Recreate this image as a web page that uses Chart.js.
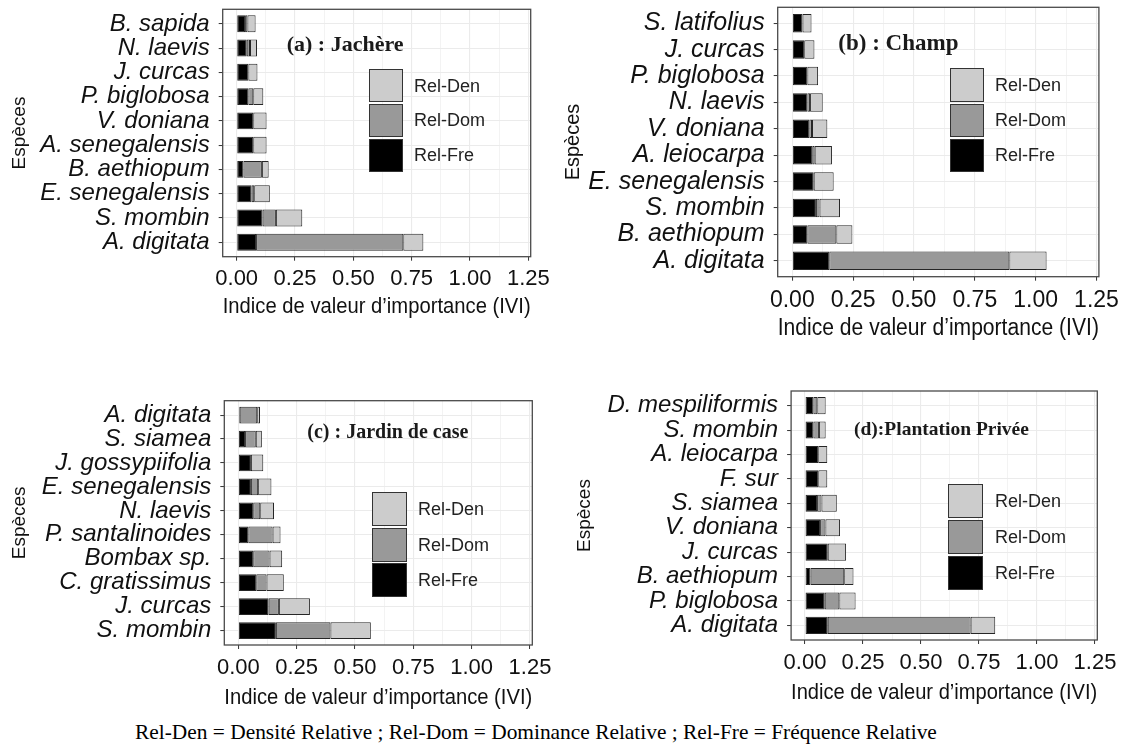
<!DOCTYPE html>
<html>
<head>
<meta charset="utf-8">
<script src="https://cdn.jsdelivr.net/npm/chart.js@4.4.0/dist/chart.umd.min.js"></script>
<style>
body { margin:0; background:#fff; width:1134px; height:746px; overflow:hidden; position:relative; font-family:"Liberation Sans", Arial, sans-serif; }
canvas.panel { position:absolute; }
.ptitle { position:absolute; font-family:"Liberation Serif", "Times New Roman", serif; font-weight:bold; color:#1a1a1a; line-height:1; white-space:nowrap; }
.key { position:absolute; box-sizing:border-box; border:1.5px solid #333; }
.keytext { position:absolute; font-size:18px; color:#222; line-height:1; white-space:nowrap; }
#caption { position:absolute; left:135px; top:722px; font-family:"Liberation Serif", "Times New Roman", serif; font-size:21.4px; color:#000; white-space:nowrap; line-height:1; }
</style>
</head>
<body>
<div id="caption">Rel-Den = Densité Relative ; Rel-Dom = Dominance Relative ; Rel-Fre = Fréquence Relative</div>
<script>
// series, stacked left to right
var seriesNames = ['Rel-Fre', 'Rel-Dom', 'Rel-Den'];
var seriesFill  = ['#000000', '#999999', '#cccccc'];

var xTickValues = [0, 0.125, 0.25, 0.375, 0.5, 0.625, 0.75, 0.875, 1, 1.125, 1.25];

// (a) Jachère - species listed top to bottom
var speciesA = ['B. sapida', 'N. laevis', 'J. curcas', 'P. biglobosa', 'V. doniana', 'A. senegalensis', 'B. aethiopum', 'E. senegalensis', 'S. mombin', 'A. digitata'];
var freA = [0.036, 0.043, 0.050, 0.050, 0.071, 0.071, 0.029, 0.064, 0.111, 0.083];
var domA = [0.010, 0.014, 0.000, 0.021, 0.000, 0.000, 0.079, 0.011, 0.057, 0.631];
var denA = [0.035, 0.030, 0.039, 0.043, 0.057, 0.057, 0.029, 0.067, 0.113, 0.086];

// (b) Champ
var speciesB = ['S. latifolius', 'J. curcas', 'P. biglobosa', 'N. laevis', 'V. doniana', 'A. leiocarpa', 'E. senegalensis', 'S. mombin', 'B. aethiopum', 'A. digitata'];
var freB = [0.042, 0.049, 0.062, 0.062, 0.070, 0.082, 0.088, 0.097, 0.062, 0.152];
var domB = [0.000, 0.000, 0.000, 0.011, 0.011, 0.010, 0.000, 0.015, 0.119, 0.740];
var denB = [0.037, 0.042, 0.044, 0.052, 0.063, 0.071, 0.082, 0.084, 0.066, 0.153];

// (c) Jardin de case
var speciesC = ['A. digitata', 'S. siamea', 'J. gossypiifolia', 'E. senegalensis', 'N. laevis', 'P. santalinoides', 'Bombax sp.', 'C. gratissimus', 'J. curcas', 'S. mombin'];
var freC = [0.006, 0.029, 0.054, 0.054, 0.064, 0.043, 0.064, 0.077, 0.130, 0.161];
var domC = [0.075, 0.046, 0.000, 0.031, 0.030, 0.104, 0.070, 0.044, 0.044, 0.234];
var denC = [0.012, 0.026, 0.053, 0.057, 0.059, 0.034, 0.054, 0.074, 0.133, 0.173];

// (d) Plantation Privée
var speciesD = ['D. mespiliformis', 'S. mombin', 'A. leiocarpa', 'F. sur', 'S. siamea', 'V. doniana', 'J. curcas', 'B. aethiopum', 'P. biglobosa', 'A. digitata'];
var freD = [0.036, 0.036, 0.057, 0.057, 0.052, 0.065, 0.098, 0.024, 0.085, 0.098];
var domD = [0.017, 0.024, 0.000, 0.000, 0.019, 0.023, 0.000, 0.145, 0.063, 0.616];
var denD = [0.036, 0.029, 0.039, 0.039, 0.066, 0.063, 0.079, 0.040, 0.070, 0.106];

function isMajor(v) { return Math.abs(v * 4 - Math.round(v * 4)) < 1e-6; }

// panel border drawn on top, like ggplot's panel.border
var frame = {
	id: 'frame',
	afterDraw: function(chart) {
		var a = chart.chartArea, c = chart.ctx;
		c.save();
		c.strokeStyle = '#4a4a4a';
		c.lineWidth = 1.3;
		c.strokeRect(a.left, a.top, a.right - a.left, a.bottom - a.top);
		c.restore();
	}
};

function makePanel(p) {
	var cv = document.createElement('canvas');
	cv.className = 'panel';
	cv.width = p.w; cv.height = p.h;
	cv.style.left = p.x + 'px'; cv.style.top = p.y + 'px';
	document.body.appendChild(cv);

	var datasets = seriesNames.map(function(name, k) {
		return {
			label: name,
			data: p.values[k].map(function(v, i) { return {x: v, y: i}; }),
			backgroundColor: seriesFill[k],
			borderColor: '#262626',
			borderWidth: 1,
			borderSkipped: false,
			barPercentage: 0.7,
			categoryPercentage: 1
		};
	});

	new Chart(cv, {
		type: 'bar',
		data: { datasets: datasets },
		options: {
			indexAxis: 'y',
			responsive: false,
			animation: false,
			devicePixelRatio: 1,
			layout: { padding: { left: 0, top: p.top, right: p.w - p.right, bottom: 0 } },
			plugins: { legend: { display: false }, tooltip: { enabled: false } },
			scales: {
				x: {
					type: 'linear', stacked: true, bounds: 'data', beginAtZero: false,
					min: -0.06, max: 1.26,
					afterBuildTicks: function(s) { s.ticks = xTickValues.map(function(v) { return {value: v}; }); },
					afterFit: function(s) { s.height = p.h - p.bottom; s.paddingLeft = 0; s.paddingRight = 0; },
					ticks: {
						autoSkip: false, maxRotation: 0, padding: p.tickPad, color: '#111',
						font: { family: 'Liberation Sans', size: p.tickSize },
						callback: function(v) { return isMajor(v) ? v.toFixed(2) : ''; }
					},
					grid: {
						color: '#ebebeb',
						lineWidth: function(c) { return c.tick && isMajor(c.tick.value) ? 1.1 : 0.6; },
						tickColor: function(c) { return c.tick && isMajor(c.tick.value) ? '#333' : 'rgba(0,0,0,0)'; },
						tickLength: 4, tickWidth: 1
					},
					border: { display: false },
					title: {
						display: true, text: 'Indice de valeur d’importance (IVI)', color: '#111',
						font: { family: 'Liberation Sans', size: p.titleSize },
						padding: { top: 0, bottom: p.titlePad }
					}
				},
				y: {
					// ggplot-like discrete axis: 0.6 of a step of room at each end
					type: 'linear', stacked: true, reverse: true, bounds: 'data', offset: false,
					min: -0.6, max: 9.6,
					afterBuildTicks: function(s) { s.ticks = p.labels.map(function(l, i) { return {value: i}; }); },
					afterFit: function(s) { s.width = p.left; s.paddingTop = 0; s.paddingBottom = 0; },
					ticks: {
						autoSkip: false, padding: 9, color: '#111',
						font: { family: 'Liberation Sans', size: p.labelSize, style: 'italic' },
						callback: function(v) { return p.labels[v]; }
					},
					grid: { offset: false, color: '#ebebeb', lineWidth: 1.1, tickColor: '#333', tickLength: 4, tickWidth: 1 },
					border: { display: false },
					title: {
						display: true, text: 'Espèces', color: '#111',
						font: { family: 'Liberation Sans', size: p.yTitleSize },
						padding: { top: p.yTitlePad, bottom: 0 }
					}
				}
			}
		},
		plugins: [frame]
	});

	var t = document.createElement('div');
	t.className = 'ptitle';
	t.textContent = p.name;
	t.style.left = p.nameX + 'px'; t.style.top = p.nameY + 'px'; t.style.fontSize = p.nameSize + 'px';
	document.body.appendChild(t);

	// legend, reversed as in ggplot
	for (var j = 0; j < 3; j++) {
		var k = 2 - j;
		var box = document.createElement('div');
		box.className = 'key';
		box.style.left = p.key.x + 'px';
		box.style.top = (p.key.y + j * p.key.step) + 'px';
		box.style.width = p.key.w + 'px';
		box.style.height = p.key.h + 'px';
		box.style.background = seriesFill[k];
		document.body.appendChild(box);
		var lab = document.createElement('div');
		lab.className = 'keytext';
		lab.textContent = seriesNames[k];
		lab.style.left = p.key.tx + 'px';
		lab.style.top = (p.key.y + j * p.key.step + p.key.h / 2 - 9) + 'px';
		document.body.appendChild(lab);
	}
}

window.onload = function() {
	makePanel({ x: 0, y: 0, w: 560, h: 330, left: 222.7, right: 530.7, top: 9.3, bottom: 256.7,
		labels: speciesA, values: [freA, domA, denA],
		tickSize: 22, tickPad: 5, labelSize: 24, titleSize: 22, titlePad: 9.6, yTitleSize: 19, yTitlePad: 8,
		name: '(a) : Jachère', nameX: 286.7, nameY: 33.3, nameSize: 22,
		key: { x: 369, y: 69, w: 33.5, h: 33, step: 34.8, tx: 414 } });

	makePanel({ x: 560, y: 0, w: 574, h: 350, left: 217.7, right: 538.9, top: 7.3, bottom: 276.7,
		labels: speciesB, values: [freB, domB, denB],
		tickSize: 23, tickPad: 6, labelSize: 25, titleSize: 23, titlePad: 7.7, yTitleSize: 20, yTitlePad: 1,
		name: '(b) : Champ', nameX: 838.3, nameY: 30.7, nameSize: 23,
		key: { x: 950, y: 68.3, w: 33.5, h: 33.5, step: 35.2, tx: 995 } });

	makePanel({ x: 0, y: 385, w: 560, h: 330, left: 224.3, right: 532.3, top: 15.7, bottom: 260,
		labels: speciesC, values: [freC, domC, denC],
		tickSize: 22, tickPad: 6, labelSize: 24, titleSize: 22, titlePad: 4, yTitleSize: 19, yTitlePad: 8,
		name: '(c) : Jardin de case', nameX: 307.3, nameY: 421.3, nameSize: 20,
		key: { x: 371.7, y: 492.3, w: 35, h: 34, step: 35.5, tx: 418 } });

	makePanel({ x: 560, y: 380, w: 574, h: 335, left: 231.1, right: 537.3, top: 11, bottom: 260,
		labels: speciesD, values: [freD, domD, denD],
		tickSize: 22, tickPad: 6, labelSize: 24, titleSize: 22, titlePad: 9, yTitleSize: 19, yTitlePad: 13.5,
		name: '(d):Plantation Privée', nameX: 854, nameY: 418.7, nameSize: 19.5,
		key: { x: 948.3, y: 484.3, w: 35, h: 34, step: 35.7, tx: 995 } });
};
</script>
</body>
</html>
